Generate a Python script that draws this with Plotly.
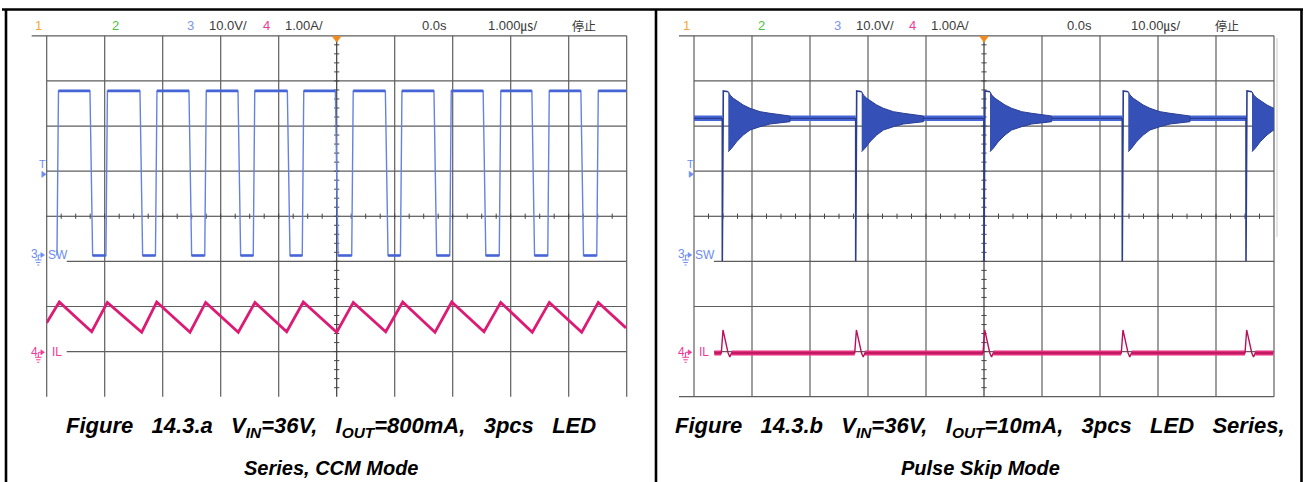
import plotly.graph_objects as go

W, H = 1304, 482

# ---------------- Figure 14.3.a : CCM, time in µs (1 µs/div) ----------------
ccm_sw_rise_us = [-4.810, -3.966, -3.112, -2.262, -1.426, -0.581, 0.272, 1.112, 1.962, 2.816, 3.652, 4.497]
ccm_sw_fall_us = [-4.231, -3.369, -2.524, -1.679, -0.828, 0.000, 0.862, 1.700, 2.548, 3.388, 4.233]
ccm_sw_high_v = 36.5
ccm_sw_low_v = 0.0
ccm_sw_end_us = 4.99
ccm_sw_rise_width_us = 0.026
ccm_sw_fall_width_us = 0.046

ccm_il_peak_us = [-4.783, -3.955, -3.103, -2.259, -1.409, -0.576, 0.286, 1.138, 1.983, 2.828, 3.666, 4.510]
ccm_il_peak_a = [1.10, 1.09, 1.10, 1.09, 1.09, 1.10, 1.09, 1.10, 1.10, 1.09, 1.09, 1.09]
ccm_il_valley_us = [-4.224, -3.362, -2.529, -1.697, -0.862, 0.000, 0.845, 1.695, 2.540, 3.372, 4.224]
ccm_il_valley_a = [0.44, 0.43, 0.43, 0.43, 0.44, 0.43, 0.44, 0.43, 0.44, 0.43, 0.43]
ccm_il_start = (-5.0, 0.636)
ccm_il_end = (4.988, 0.525)

# ---------------- Figure 14.3.b : Pulse skip, time in µs (10 µs/div) ----------------
psm_pulse_us = [-45.12, -22.12, 0.0, 23.84, 45.17]
psm_sw_idle_v = 30.4
psm_sw_pulse_low_v = -1.2
psm_sw_peak_v = 36.5
psm_sw_pulse_width_us = 0.17
psm_sw_plateau_end_us = 1.03
psm_ring_up_dt = [1.034, 1.328, 1.897, 2.759, 3.621, 4.776, 6.5, 8.224, 10.517, 11.672]
psm_ring_up_v = [36.31, 35.58, 34.85, 34.09, 33.36, 32.63, 31.88, 31.52, 31.14, 30.92]
psm_ring_lo_dt = [1.034, 1.603, 2.466, 3.621, 4.776, 6.5, 8.224, 10.517, 11.672]
psm_ring_lo_v = [23.01, 23.76, 25.23, 26.71, 27.82, 28.55, 29.15, 29.53, 29.66]
psm_sw_start_us = -50.0
psm_sw_end_us = 49.88

psm_il_base_a = -0.03
psm_il_spike_dt = [-0.17, 0.12, 1.0, 1.3, 1.6]
psm_il_spike_a = [-0.03, 0.48, -0.03, -0.12, -0.03]
psm_il_start_us = -46.5
psm_il_end_us = 49.88

# channel scaling (division units on screen)
CH3_V_PER_DIV = 10.0
CH4_A_PER_DIV = 1.0
CH3_GND_DIV = -0.87
CH4_GND_DIV = -3.0

# header texts
hdr_items = [("1", "#f4a640"), ("2", "#4fbf3f"), ("3", "#7d95ec"), ("10.0V/", "#3a3a3a"),
             ("4", "#ee3c96"), ("1.00A/", "#3a3a3a"), ("0.0s", "#3a3a3a")]
hdr_left_x = [38.5, 115, 191, 209, 266.5, 285, 422]
hdr_right_x = [686, 761, 837.5, 856, 912, 931, 1067]
timebase_left, timebase_right = "1.000㎲/", "10.00㎲/"
caption_a = [["Figure", "14.3.a", "V<sub>IN</sub>=36V,", "I<sub>OUT</sub>=800mA,", "3pcs", "LED"],
             ["Series,", "CCM", "Mode"]]
caption_b = [["Figure", "14.3.b", "V<sub>IN</sub>=36V,", "I<sub>OUT</sub>=10mA,", "3pcs", "LED", "Series,"],
             ["Pulse", "Skip", "Mode"]]

# ---------------- geometry (pixels) ----------------
LX0, LX1 = 46.7, 626.7
RX0, RX1 = 694.0, 1274.0
TOP, BOT = 35.8, 396.7
YC = (TOP + BOT) / 2
DIVY = (BOT - TOP) / 8
DIVX = 58.0


def px(x):
    return x / W


def py(y):
    return 1 - y / H


def sw_div(v):
    return v / CH3_V_PER_DIV + CH3_GND_DIV


def il_div(a):
    return a / CH4_A_PER_DIV + CH4_GND_DIV


fig = go.Figure()

SW_COL = "#4564d6"
SW_EDGE = "#6581e4"
SW_DARK = "#2b3d90"
IL_COL = "#de1b74"

# ---- left SW ----
events = sorted([(t, "r") for t in ccm_sw_rise_us] + [(t, "f") for t in ccm_sw_fall_us])
sx, sy = [], []
for t, k in events:
    if k == "r":
        sx += [t - ccm_sw_rise_width_us / 2, t + ccm_sw_rise_width_us / 2]
        sy += [ccm_sw_low_v, ccm_sw_high_v]
    else:
        sx += [t - ccm_sw_fall_width_us / 2, t + ccm_sw_fall_width_us / 2]
        sy += [ccm_sw_high_v, ccm_sw_low_v]
sx.append(ccm_sw_end_us)
sy.append(ccm_sw_high_v)
fig.add_trace(go.Scatter(x=sx, y=[sw_div(v) for v in sy], mode="lines",
                         line=dict(color=SW_EDGE, width=1.4), xaxis="x", yaxis="y", hoverinfo="skip"))
plat_x, plat_y = [], []
for i in range(1, len(sx) - 1, 2):
    plat_x += [sx[i], sx[i + 1], None]
    plat_y += [sw_div(sy[i]), sw_div(sy[i + 1]), None]
fig.add_trace(go.Scatter(x=plat_x, y=plat_y, mode="lines", line=dict(color=SW_COL, width=2.6),
                         xaxis="x", yaxis="y", hoverinfo="skip"))

# ---- left IL ----
ipts = sorted(list(zip(ccm_il_peak_us, ccm_il_peak_a)) + list(zip(ccm_il_valley_us, ccm_il_valley_a)))
ipts = [ccm_il_start] + ipts + [ccm_il_end]
fig.add_trace(go.Scatter(x=[p[0] for p in ipts], y=[il_div(p[1]) for p in ipts], mode="lines",
                         line=dict(color=IL_COL, width=2.8), xaxis="x", yaxis="y", hoverinfo="skip"))

# ---- right SW ----
idle_x, idle_y = [], []
prev = psm_sw_start_us
for p in psm_pulse_us:
    idle_x += [prev, p, None]
    idle_y += [sw_div(psm_sw_idle_v)] * 2 + [None]
    prev = p + psm_ring_up_dt[-1]
idle_x += [prev, psm_sw_end_us]
idle_y += [sw_div(psm_sw_idle_v)] * 2
fig.add_trace(go.Scatter(x=idle_x, y=idle_y, mode="lines", line=dict(color=SW_COL, width=5.5),
                         xaxis="x2", yaxis="y2", hoverinfo="skip"))
fig.add_trace(go.Scatter(x=idle_x, y=idle_y, mode="lines", line=dict(color=SW_DARK, width=1.3),
                         xaxis="x2", yaxis="y2", hoverinfo="skip"))
for p in psm_pulse_us:
    rx = [p + d for d in psm_ring_up_dt] + [p + d for d in reversed(psm_ring_lo_dt)]
    ry = [sw_div(v) for v in psm_ring_up_v] + [sw_div(v) for v in reversed(psm_ring_lo_v)]
    fig.add_trace(go.Scatter(x=rx, y=ry, mode="lines", fill="toself", fillcolor="#3551b8",
                             line=dict(color=SW_DARK, width=1), xaxis="x2", yaxis="y2", hoverinfo="skip"))
    fig.add_trace(go.Scatter(
        x=[p, p, p + psm_sw_pulse_width_us, p + psm_sw_plateau_end_us],
        y=[sw_div(psm_sw_idle_v), sw_div(psm_sw_pulse_low_v), sw_div(psm_sw_peak_v), sw_div(psm_ring_up_v[0])],
        mode="lines", line=dict(color=SW_DARK, width=1.6), xaxis="x2", yaxis="y2", hoverinfo="skip"))

# ---- right IL ----
bx, by = [], []
prev = psm_il_start_us
for p in psm_pulse_us:
    bx += [prev, p + psm_il_spike_dt[0], None]
    by += [il_div(psm_il_base_a)] * 2 + [None]
    prev = p + psm_il_spike_dt[-1]
bx += [prev, psm_il_end_us]
by += [il_div(psm_il_base_a)] * 2
fig.add_trace(go.Scatter(x=bx, y=by, mode="lines", line=dict(color="#e4307e", width=5),
                         xaxis="x2", yaxis="y2", hoverinfo="skip"))
lx, ly = [psm_il_start_us], [il_div(psm_il_base_a)]
for p in psm_pulse_us:
    lx += [p + d for d in psm_il_spike_dt]
    ly += [il_div(a) for a in psm_il_spike_a]
lx.append(psm_il_end_us)
ly.append(il_div(psm_il_base_a))
fig.add_trace(go.Scatter(x=lx, y=ly, mode="lines", line=dict(color="#b8105a", width=1.4),
                         xaxis="x2", yaxis="y2", hoverinfo="skip"))

# ---------------- shapes ----------------
shapes = []


def line(x0, y0, x1, y1, color="#5c5c5c", width=1.2):
    shapes.append(dict(type="line", xref="paper", yref="paper", x0=px(x0), y0=py(y0), x1=px(x1), y1=py(y1),
                       line=dict(color=color, width=width), layer="below"))


def path(pts, color):
    d = "M " + " L ".join(f"{px(a):.6f},{py(b):.6f}" for a, b in pts) + " Z"
    shapes.append(dict(type="path", xref="paper", yref="paper", path=d, fillcolor=color,
                       line=dict(color=color, width=0.5), layer="above"))


GRID = "#5e5e5e"
for (X0, X1, has_bottom) in [(LX0, LX1, False), (RX0, RX1, True)]:
    for i in range(11):
        x = X0 + i * DIVX
        if i == 5:
            continue
        line(x, TOP, x, BOT, GRID)
    for j in range(9):
        y = TOP + j * DIVY
        if j == 8 and not has_bottom:
            continue
        if j == 4:
            continue
        xs = X0
        if j in (0, 8):
            xs = X0 - 15
        if j in (5, 7):
            xs = X0 + 20
        line(xs, y, X1, y, GRID)
    xc = X0 + 5 * DIVX
    line(xc, TOP + 5, xc, BOT, "#3a3a3a", 1.2)
    line(X0, YC, X1, YC, "#3a3a3a", 1.2)
    for k in range(1, 40):
        x = X0 + k * DIVX / 4
        line(x, YC - 2.6, x, YC + 2.6, "#444444", 1)
        y = TOP + k * DIVY / 5
        line(xc - 2.6, y, xc + 2.6, y, "#444444", 1)
    path([(xc - 4.5, 36.3), (xc + 4.5, 36.3), (xc, 42.2)], "#f08a1c")

LBL = "#6d8cf0"
IL_LBL = "#ee3c96"
for off in (0.0, 647.3):
    path([(41.8 + off, 171.2), (46.2 + off, 174.3), (41.8 + off, 177.4)], LBL)
    for (yy, col) in [(255.0, LBL), (352.3, IL_LBL)]:
        gx = 38.3 + off
        line(gx, yy, gx, yy + 5, col, 1)
        line(gx, yy, gx + 2.5, yy, col, 1)
        line(gx - 3.3, yy + 5, gx + 3.3, yy + 5, col, 1)
        line(gx - 2.2, yy + 7.5, gx + 2.2, yy + 7.5, col, 1)
        line(gx - 1, yy + 10, gx + 1, yy + 10, col, 1)
        path([(40.8 + off, yy - 2.6), (44.6 + off, yy), (40.8 + off, yy + 2.6)], col)

line(1277, 38, 1277, 237, "#c9c9c9", 1)

for (x0, y0, x1, y1) in [(2, 9.5, 1303, 9.5), (6, 9.5, 6, 482), (656, 9.5, 656, 482), (1301.5, 9.5, 1301.5, 482)]:
    shapes.append(dict(type="line", xref="paper", yref="paper", x0=px(x0), y0=py(y0), x1=px(x1), y1=py(y1),
                       line=dict(color="#000000", width=2.6), layer="above"))

# ---------------- annotations ----------------
ann = []
HF = "Liberation Sans, Arial, Noto Sans CJK JP, sans-serif"


def txt(x, y, s, color, size=13, xanchor="left", family=HF):
    ann.append(dict(x=px(x), y=py(y), xref="paper", yref="paper", text=s, showarrow=False,
                    xanchor=xanchor, yanchor="middle", font=dict(family=family, size=size, color=color),
                    borderpad=0))


for xs, tb, stop_x, tb_x in [(hdr_left_x, timebase_left, 572, 488), (hdr_right_x, timebase_right, 1215, 1131)]:
    for (s, c), x in zip(hdr_items, xs):
        if len(s) == 1:
            txt(x, 25.5, s, c, 13, "center")
        else:
            txt(x - 1, 25.5, s, c, 13, "left")
    txt(tb_x - 1, 25.5, tb, "#3a3a3a", 13, "left")
    txt(stop_x - 1, 25.5, "停止", "#3a3a3a", 12, "left",
        family="Noto Sans CJK JP, Noto Sans CJK SC, sans-serif")

for off in (0.0, 647.3):
    txt(43.0 + off, 163.5, "T", LBL, 11, "center")
    txt(34.0 + off, 254.0, "3", LBL, 12, "center")
    txt(57.8 + off, 255.0, "SW", LBL, 12, "center")
    txt(34.0 + off, 351.5, "4", IL_LBL, 12, "center")
    txt(57.0 + off, 352.0, "IL", IL_LBL, 12, "center")

CF = "Liberation Sans, Arial, sans-serif"
# first caption line is justified (wider word gaps), second line is set normally
for cx, lines in [(331, caption_a), (980, caption_b)]:
    for y, words, gap, fs in zip((426.5, 467.5), lines, (" " + "&nbsp;" * 2, " "), (22, 20)):
        txt(cx, y, "<b><i>" + gap.join(words) + "</i></b>", "#000000", fs, "center", family=CF)

fig.update_layout(
    width=W, height=H, margin=dict(l=0, r=0, t=0, b=0),
    paper_bgcolor="white", plot_bgcolor="rgba(0,0,0,0)", showlegend=False,
    xaxis=dict(domain=[px(LX0), px(LX1)], range=[-5, 5], visible=False, fixedrange=True),
    yaxis=dict(domain=[py(BOT), py(TOP)], range=[-4, 4], visible=False, fixedrange=True),
    xaxis2=dict(domain=[px(RX0), px(RX1)], range=[-50, 50], visible=False, anchor="y2", fixedrange=True),
    yaxis2=dict(domain=[py(BOT), py(TOP)], range=[-4, 4], visible=False, anchor="x2", fixedrange=True),
    shapes=shapes, annotations=ann,
)

fig.write_html("out.html", config={"displayModeBar": False},
               post_script="document.body.style.margin='0px';document.body.style.padding='0px';")
